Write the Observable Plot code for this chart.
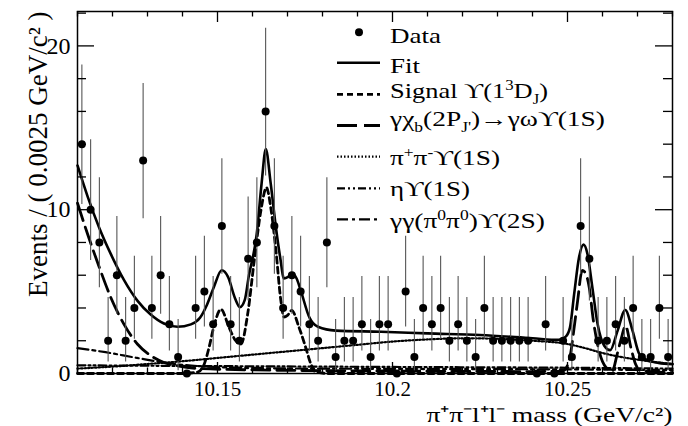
<!DOCTYPE html>
<html><head><meta charset="utf-8">
<script src="https://cdn.jsdelivr.net/npm/d3@7"></script>
<script src="https://cdn.jsdelivr.net/npm/@observablehq/plot@0.6"></script>
<style>
body{margin:0;background:#fff;}
#chart svg{display:block;}
#chart svg text{font-family:'Liberation Serif','Times New Roman',serif;}
</style>
</head><body><div id="chart"></div>
<script>
// ---- data ----
const massLow = 10.11, massHigh = 10.28, binWidth = 0.0025;
const counts = [14,10,8,2,6,2,4,13,4,6,3,1,0,4,5,3,9,3,
                2,7,8,16,9,4,6,5,3,2,8,1,2,2,3,1,3,
                3,0,5,1,4,3,4,2,3,2,1,4,2,2,2,2,2,
                0,3,0,2,1,9,7,2,2,3,2,4,1,1,4,1];
// 68.27% Poisson (Garwood) interval limits for n = 0..16
const poissonLow  = [0,0.173,0.708,1.367,2.086,2.840,3.620,4.419,5.232,6.057,6.891,7.734,8.585,9.443,10.31,11.18,12.06];
const poissonHigh = [1.841,3.300,4.638,5.918,7.163,8.382,9.584,10.77,11.95,13.11,14.27,15.42,16.56,17.70,18.83,19.96,21.08];

const fitX = [10.110,10.1129,10.1162,10.1195,10.1233,10.1271,10.1309,10.1347,10.1386,10.1424,10.1450,10.1470,10.1490,10.1512,10.1530,10.1550,10.1564,10.1578,10.1589,10.1612,10.1626,10.1638,10.1652,10.1667,10.1679,10.1690,10.1702,10.1714,10.1726,10.1738,10.1762,10.1787,10.1838,10.1967,10.2100,10.2250,10.2400,10.2475,10.2495,10.2507,10.2519,10.2533,10.2546,10.2557,10.2571,10.2586,10.2605,10.2622,10.2643,10.2665,10.2686,10.2705,10.2729,10.2760,10.2800];
const fitY = [12.7,10.8,8.9,7.3,5.7,4.45,3.6,3.05,2.85,3.0,3.4,4.2,5.3,6.3,5.9,4.6,4.05,4.5,5.9,8.5,11.6,13.7,11.6,8.9,7.1,5.8,5.9,6.1,5.8,5.06,3.45,2.85,2.62,2.55,2.45,2.35,2.15,2.05,2.25,2.8,4.85,7.1,7.87,7.3,5.26,3.02,1.7,1.43,2.6,3.88,2.6,1.2,0.8,0.65,0.57];

const signalX = [10.110,10.140,10.1445,10.1462,10.1476,10.1490,10.1510,10.1533,10.1552,10.1567,10.1586,10.1605,10.1624,10.1640,10.1652,10.1667,10.1681,10.1690,10.1700,10.1712,10.1733,10.1752,10.1767,10.1780,10.1820,10.280];
const signalY = [0,0,0.1,0.57,1.6,2.9,3.92,2.81,2.0,1.8,3.6,6.9,9.95,11.35,10.15,7.5,4.45,3.45,3.55,3.85,2.81,1.59,0.57,0.1,0,0];

const chibX = [10.110,10.1129,10.1162,10.1195,10.1233,10.1271,10.1310,10.1347,10.1386,10.1450,10.1600,10.2000,10.2400,10.2485,10.2500,10.2507,10.2519,10.2529,10.2542,10.2552,10.2562,10.2574,10.2590,10.2610,10.2628,10.2642,10.2652,10.2666,10.2681,10.2694,10.2710,10.2800];
const chibY = [10.4,8.5,6.5,4.65,3.0,1.8,1.08,0.67,0.47,0.3,0.22,0.15,0.12,0.15,0.5,1.0,2.8,4.45,6.3,6.1,5.26,3.22,1.39,0.37,0.15,1.19,2.0,2.9,1.59,0.6,0.15,0.05];

const pipiX = [10.110,10.120,10.130,10.140,10.150,10.160,10.170,10.180,10.190,10.200,10.210,10.220,10.230,10.240,10.250,10.255,10.260,10.265,10.270,10.275,10.280];
const pipiY = [0.3,0.42,0.58,0.75,0.95,1.15,1.35,1.55,1.75,1.95,2.08,2.15,2.12,2.0,1.8,1.55,1.25,1.02,0.85,0.7,0.57];

const etaX = [10.110,10.150,10.200,10.250,10.280];
const etaY = [0.5,0.45,0.4,0.35,0.3];

const ggX = [10.110,10.118,10.127,10.137,10.147,10.160,10.200,10.250,10.280];
const ggY = [1.55,1.3,0.95,0.6,0.42,0.33,0.28,0.25,0.2];

const xMajorTicks = [10.15, 10.2, 10.25];
const xMinorTicks = [10.11,10.12,10.13,10.14,10.16,10.17,10.18,10.19,10.21,10.22,10.23,10.24,10.26,10.27,10.28];
const yMajorTicks = [0, 10, 20];
const yMinorTicks = [2,4,6,8,12,14,16,18,22];

// ---- build ----
const W = 688, H = 426, mL = 77, mR = 16, mT = 11, mB = 53;
const iW = W - mL - mR, iH = H - mT - mB;
const serif = "Liberation Serif";

const rows = counts.map((n, i) => ({x: massLow + binWidth * (i + 0.5), n, lo: poissonLow[n], hi: poissonHigh[n]}));
const pts = (xs, ys) => xs.map((x, i) => ({x, y: ys[i]}));
const lineOpts = {x: "x", y: "y", curve: "monotone-x", stroke: "black", fill: "none"};

const chart = Plot.plot({
  width: W, height: H,
  marginLeft: mL, marginRight: mR, marginTop: mT, marginBottom: mB,
  style: {fontFamily: serif, background: "white", overflow: "visible"},
  x: {domain: [massLow, massHigh], axis: null},
  y: {domain: [0, 22.1], axis: null},
  marks: [
    // components
    Plot.line(pts(ggX, ggY), {...lineOpts, strokeWidth: 2.2, strokeDasharray: "11,4,3,4"}),
    Plot.line(pts(etaX, etaY), {...lineOpts, strokeWidth: 2.2, strokeDasharray: "8,3,2,3,2,3"}),
    Plot.line(pts(pipiX, pipiY), {...lineOpts, strokeWidth: 2.2, strokeDasharray: "1.5,2"}),
    Plot.line(pts(chibX, chibY), {...lineOpts, strokeWidth: 2.8, strokeDasharray: "18,7"}),
    Plot.line(pts(signalX, signalY), {...lineOpts, strokeWidth: 2.8, strokeDasharray: "6,4"}),
    Plot.line(pts(fitX, fitY), {...lineOpts, strokeWidth: 2.6}),
    // data
    Plot.ruleX(rows.filter(d => d.n > 0), {x: "x", y1: "lo", y2: "hi", stroke: "#555", strokeWidth: 1.1}),
    Plot.dot(rows, {x: "x", y: "n", r: 4, fill: "black", stroke: "none"}),
    // frame + ticks
    Plot.frame({stroke: "black", strokeWidth: 1.5}),
    Plot.tickX(xMinorTicks, {x: d => d, insetTop: iH - 5.5, strokeWidth: 1.3}),
    Plot.tickX(xMinorTicks, {x: d => d, insetBottom: iH - 5.5, strokeWidth: 1.3}),
    Plot.tickX(xMajorTicks, {x: d => d, insetTop: iH - 11, strokeWidth: 1.3}),
    Plot.tickX(xMajorTicks, {x: d => d, insetBottom: iH - 11, strokeWidth: 1.3}),
    Plot.tickY(yMinorTicks, {y: d => d, insetRight: iW - 9, strokeWidth: 1.3}),
    Plot.tickY(yMinorTicks, {y: d => d, insetLeft: iW - 9, strokeWidth: 1.3}),
    Plot.tickY(yMajorTicks, {y: d => d, insetRight: iW - 17, strokeWidth: 1.3}),
    Plot.tickY(yMajorTicks, {y: d => d, insetLeft: iW - 17, strokeWidth: 1.3}),
    // tick labels
    Plot.text(xMajorTicks, {x: d => d, frameAnchor: "bottom", lineAnchor: "top", dy: 8, text: d => String(d), fontSize: 21, fontFamily: serif, fill: "black"}),
    Plot.text(yMajorTicks, {y: d => d, frameAnchor: "left", textAnchor: "end", dx: -7, text: d => String(d), fontSize: 24, fontFamily: serif, fill: "black"}),
    // axis titles
    Plot.text(["π⁺π⁻l⁺l⁻ mass (GeV/c²)"], {frameAnchor: "bottom-right", textAnchor: "end", lineAnchor: "bottom", dy: 48, text: d => d, fontSize: 22, fontFamily: serif, fill: "black", className: "xtitle"}),
    Plot.text(["Events / ( 0.0025 GeV/c² )"], {frameAnchor: "top-left", textAnchor: "end", rotate: -90, dx: -50, dy: 0, text: d => d, fontSize: 27, fontFamily: serif, fill: "black"})
  ]
});
document.getElementById("chart").appendChild(chart);

// stretch x title horizontally to the reference width
d3.select(chart).selectAll("g.xtitle text").attr("textLength", 246).attr("lengthAdjust", "spacingAndGlyphs");

// ---- legend ----
const svg = d3.select(chart);
const lg = svg.append("g").attr("font-family", serif).attr("fill", "black").attr("text-anchor", "start");
const legendRows = [
  {y: 32.3, base: 42.5, len: 51, kind: "dot", parts: [["Data"]]},
  {y: 62.7, base: 72.5, len: 30, kind: "line", dash: null, w: 2.6, parts: [["Fit"]]},
  {y: 94.3, base: 98, len: 158, kind: "line", dash: "6,4", w: 2.8, parts: [["Signal ϒ(1"], ["3", "sup"], ["D"], ["J", "sub"], [")"]]},
  {y: 125.5, base: 126, len: 215, kind: "line", dash: "20,7", w: 2.8, parts: [["γχ"], ["b", "sub"], ["(2P"], ["J'", "sub"], [")→γωϒ(1S)"]]},
  {y: 156.7, base: 164.5, len: 110, kind: "line", dash: "1.5,2", w: 2.2, parts: [["π"], ["+", "sup"], ["π"], ["-", "sup"], ["ϒ(1S)"]]},
  {y: 188.3, base: 196, len: 80, kind: "line", dash: "8,3,2,3,2,3", w: 2.2, parts: [["ηϒ(1S)"]]},
  {y: 219.3, base: 228, len: 155, kind: "line", dash: "11,4,3,4", w: 2.2, parts: [["γγ(π"], ["0", "sup"], ["π"], ["0", "sup"], [")ϒ(2S)"]]}
];
legendRows.forEach(r => {
  if (r.kind === "dot") {
    lg.append("circle").attr("cx", 359).attr("cy", r.y).attr("r", 4);
  } else {
    lg.append("line").attr("x1", 337).attr("x2", 380).attr("y1", r.y).attr("y2", r.y)
      .attr("stroke", "black").attr("stroke-width", r.w).attr("stroke-dasharray", r.dash);
  }
  const t = lg.append("text").attr("x", 390).attr("y", r.base).attr("font-size", 22)
    .attr("text-anchor", "start").attr("textLength", r.len).attr("lengthAdjust", "spacingAndGlyphs");
  let shift = 0;
  r.parts.forEach(([s, k]) => {
    const target = k === "sup" ? -8 : k === "sub" ? 6 : 0;
    const sp = t.append("tspan").attr("dy", target - shift).text(s);
    if (k) sp.attr("font-size", 14);
    shift = target;
  });
});
</script>
</body></html>
